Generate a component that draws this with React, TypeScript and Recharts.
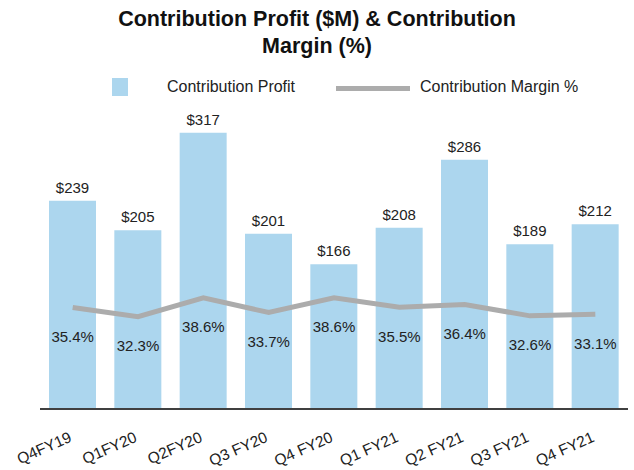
import React from 'react';
import { ComposedChart, Bar, Line, XAxis, YAxis, LabelList } from 'recharts';

const quarters = ['Q4FY19', 'Q1FY20', 'Q2FY20', 'Q3 FY20', 'Q4 FY20', 'Q1 FY21', 'Q2 FY21', 'Q3 FY21', 'Q4 FY21'];
const profit = [239, 205, 317, 201, 166, 208, 286, 189, 212];
const margin = [35.4, 32.3, 38.6, 33.7, 38.6, 35.5, 36.4, 32.6, 33.1];

const data = quarters.map((q, i) => ({ quarter: q, profit: profit[i], margin: margin[i] }));

const FONT = '"Liberation Sans", Arial, sans-serif';
const BAR_COLOR = '#acd6ee';
const LINE_COLOR = '#acacac';

// rotated category labels, ending right at the bar centre
const AngledTick = (props: any) => {
  const { x, y, payload } = props;
  return (
    <g transform={`translate(${x},${y + 24}) rotate(-24)`}>
      <text x={0} y={0} textAnchor="end" fill="#222" fontSize={15.5} fontFamily={FONT}>
        {payload.value}
      </text>
    </g>
  );
};

export default function App() {
  return (
    <div style={{ position: 'absolute', left: 0, top: 0, width: 634, height: 470, background: '#fff', fontFamily: FONT }}>
      {/* title */}
      <div style={{ position: 'absolute', top: 6, left: 0, width: 634, textAlign: 'center', fontSize: 21.5, fontWeight: 'bold', lineHeight: '27px', color: '#111' }}>
        Contribution Profit ($M) &amp; Contribution
        <br />
        Margin (%)
      </div>

      {/* legend */}
      <div style={{ position: 'absolute', top: 78, left: 112, width: 16, height: 18, background: BAR_COLOR }} />
      <div style={{ position: 'absolute', top: 78, left: 167, fontSize: 16, lineHeight: '18px', color: '#222' }}>Contribution Profit</div>
      <div style={{ position: 'absolute', top: 86, left: 336, width: 74, height: 5, background: LINE_COLOR }} />
      <div style={{ position: 'absolute', top: 78, left: 420, fontSize: 16, lineHeight: '18px', color: '#222' }}>Contribution Margin %</div>

      <div style={{ position: 'absolute', left: 0, top: 0 }}>
        <ComposedChart width={634} height={470} data={data} margin={{ top: 104, right: 6, left: 40, bottom: 0 }}>
          <XAxis
            dataKey="quarter"
            axisLine={{ stroke: '#404040', strokeWidth: 2 }}
            tickLine={false}
            interval={0}
            height={61}
            tick={<AngledTick />}
          />
          <YAxis yAxisId="left" hide domain={[0, 350]} />
          <YAxis yAxisId="right" orientation="right" hide domain={[1.6, 103.1]} />
          <Bar yAxisId="left" dataKey="profit" fill={BAR_COLOR} barSize={47} isAnimationActive={false}>
            <LabelList
              dataKey="profit"
              position="top"
              offset={8}
              fill="#222"
              fontSize={15}
              fontFamily={FONT}
              formatter={(v: any) => `$${v}`}
            />
          </Bar>
          <Line
            yAxisId="right"
            dataKey="margin"
            stroke={LINE_COLOR}
            strokeWidth={5}
            dot={false}
            activeDot={false}
            isAnimationActive={false}
          >
            <LabelList
              dataKey="margin"
              position="bottom"
              offset={24}
              fill="#222"
              fontSize={15}
              fontFamily={FONT}
              formatter={(v: any) => `${v.toFixed(1)}%`}
            />
          </Line>
        </ComposedChart>
      </div>
    </div>
  );
}
